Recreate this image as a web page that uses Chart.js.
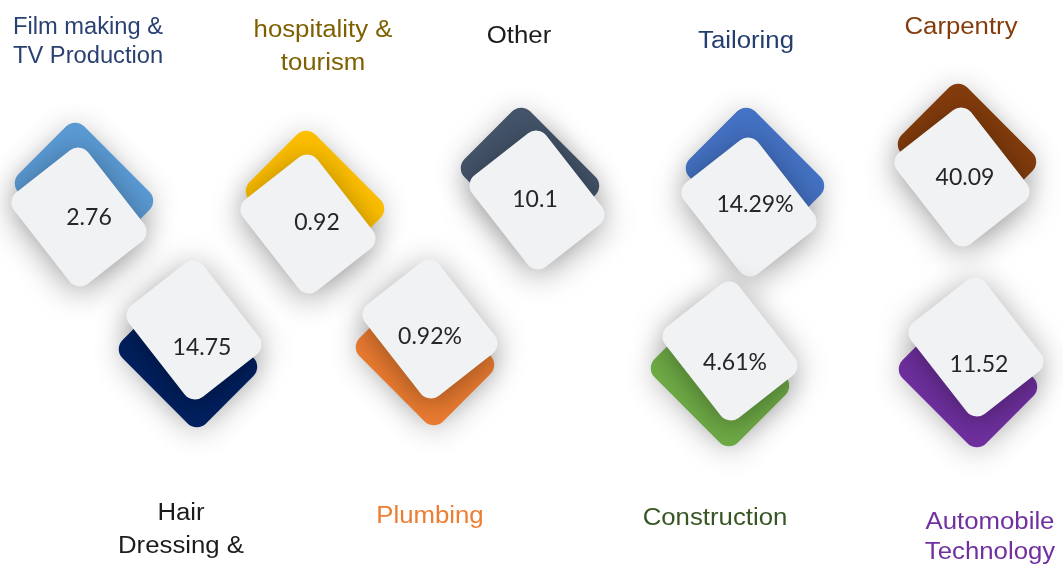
<!DOCTYPE html>
<html>
<head>
<meta charset="utf-8">
<script src="https://cdn.jsdelivr.net/npm/chart.js@4/dist/chart.umd.min.js"></script>
<style>
  html, body { margin: 0; padding: 0; background: #ffffff; }
  #wrap { width: 1063px; height: 565px; }
</style>
</head>
<body>
<div id="wrap"><canvas id="myChart" width="1063" height="565"></canvas></div>
<script>
// data
const categories = [
  "Film making &\nTV Production",
  "Hair\nDressing &",
  "hospitality &\ntourism",
  "Plumbing",
  "Other",
  "Tailoring",
  "Construction",
  "Carpentry",
  "Automobile\nTechnology"
];
const values = [2.76, 14.75, 0.92, 0.92, 10.1, 14.29, 4.61, 40.09, 11.52];
const units = ["", "", "", "%", "", "%", "%", "", ""];

// colours
const cardColors = ["#5B9BD5", "#002060", "#FFC000", "#ED7D31", "#44546A", "#4472C4", "#70AD47", "#843C0C", "#7030A0"];
const labelColors = ["#2A4272", "#1c1c1c", "#7F6000", "#ED7D31", "#1c1c1c", "#243E6E", "#375623", "#843C0C", "#7030A0"];

// layout (card centre, back card offset, value offset, label anchor, line gap, label stretch)
const layout = [
  { x: 79,  y: 217, bx: 5,  by: -25, tx: 10, ty: 1,  lx: 13,  ly: 34,  gap: 29, align: "left",   sx: 1.03 },
  { x: 194, y: 330, bx: -6, by: 28,  tx: 8,  ty: 18, lx: 181, ly: 520, gap: 33, align: "center", sx: 1.12 },
  { x: 308, y: 224, bx: 7,  by: -24, tx: 9,  ty: -1, lx: 323, ly: 37,  gap: 33, align: "center", sx: 1.12 },
  { x: 430, y: 329, bx: -5, by: 27,  tx: 0,  ty: 8,  lx: 430, ly: 523, gap: 30, align: "center", sx: 1.12 },
  { x: 537, y: 200, bx: -7, by: -23, tx: -2, ty: 0,  lx: 519, ly: 43,  gap: 30, align: "center", sx: 1.12 },
  { x: 749, y: 207, bx: 6,  by: -30, tx: 6,  ty: -2, lx: 746, ly: 48,  gap: 30, align: "center", sx: 1.12 },
  { x: 730, y: 351, bx: -10, by: 26, tx: 5,  ty: 12, lx: 715, ly: 525, gap: 30, align: "center", sx: 1.12 },
  { x: 962, y: 177, bx: 5,  by: -24, tx: 3,  ty: 1,  lx: 961, ly: 34,  gap: 30, align: "center", sx: 1.12 },
  { x: 976, y: 347, bx: -8, by: 31,  tx: 3,  ty: 18, lx: 990, ly: 529, gap: 30, align: "center", sx: 1.12 }
];

function card(ctx, cx, cy, w, h, angle, r, fill) {
  ctx.save();
  ctx.translate(cx, cy);
  ctx.rotate(angle);
  ctx.beginPath();
  ctx.roundRect(-w / 2, -h / 2, w, h, r);
  ctx.fillStyle = fill;
  ctx.fill();
  ctx.restore();
}

const cardPlugin = {
  id: "cards",
  afterDatasetsDraw(chart) {
    const ctx = chart.ctx;
    const meta = chart.getDatasetMeta(0);
    meta.data.forEach((pt, i) => {
      const l = layout[i];
      // back coloured card
      ctx.save();
      ctx.shadowColor = "rgba(0,0,0,0.24)";
      ctx.shadowBlur = 30;
      ctx.shadowOffsetY = 4;
      card(ctx, pt.x + l.bx, pt.y + l.by, 118, 93, Math.PI / 4, 13, cardColors[i]);
      ctx.restore();
      // front white card
      ctx.save();
      ctx.shadowColor = "rgba(0,0,0,0.36)";
      ctx.shadowBlur = 32;
      ctx.shadowOffsetY = 5;
      card(ctx, pt.x, pt.y, 116, 94, 52 * Math.PI / 180, 13, "#F1F2F4");
      ctx.restore();
      // value
      ctx.save();
      ctx.font = "23px Lato";
      ctx.fillStyle = "#262626";
      ctx.textAlign = "center";
      ctx.textBaseline = "middle";
      ctx.fillText(values[i] + units[i], pt.x + l.tx, pt.y + l.ty);
      ctx.restore();
      // label
      ctx.save();
      ctx.font = "23px 'Liberation Sans'";
      ctx.fillStyle = labelColors[i];
      ctx.textAlign = l.align;
      ctx.textBaseline = "alphabetic";
      ctx.translate(l.lx, 0);
      ctx.scale(l.sx, 1);
      categories[i].split("\n").forEach((line, k) => {
        ctx.fillText(line, 0, l.ly + k * l.gap);
      });
      ctx.restore();
    });
  }
};

new Chart(document.getElementById("myChart"), {
  type: "scatter",
  data: {
    labels: categories,
    datasets: [{
      label: "Share",
      data: layout.map(l => ({ x: l.x, y: l.y })),
      pointRadius: 0,
      pointHoverRadius: 0
    }]
  },
  options: {
    responsive: false,
    animation: false,
    layout: { padding: 0 },
    plugins: { legend: { display: false }, tooltip: { enabled: false } },
    scales: {
      x: { type: "linear", min: 0, max: 1063, display: false },
      y: { type: "linear", min: 0, max: 565, reverse: true, display: false }
    }
  },
  plugins: [cardPlugin]
});
</script>
</body>
</html>
